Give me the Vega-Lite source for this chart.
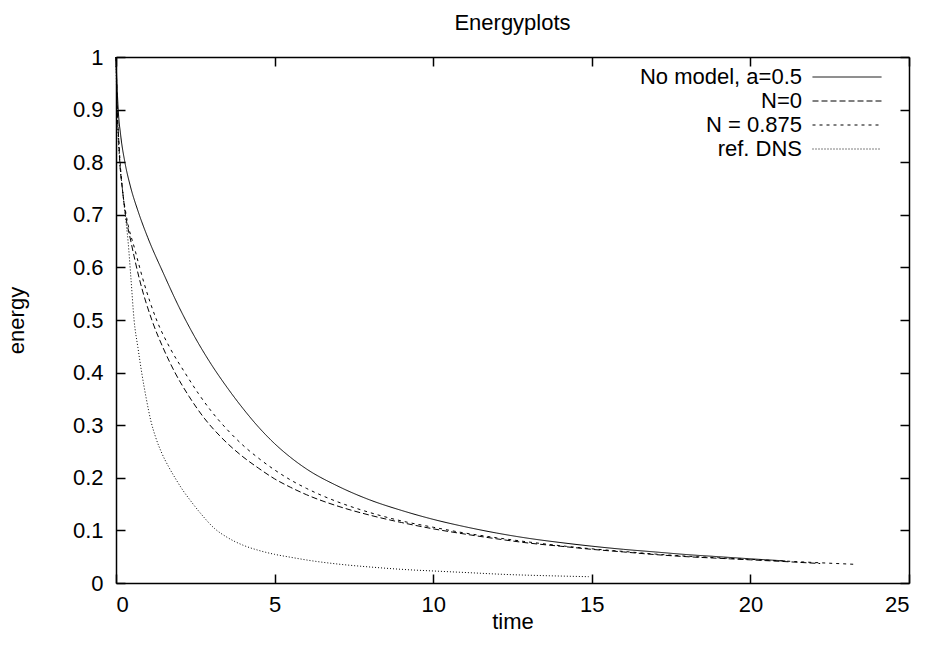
{
  "$schema": "https://vega.github.io/schema/vega-lite/v6.json",
  "width": 793,
  "height": 526,
  "autosize": {"type": "none"},
  "padding": {"left": 116, "top": 57, "right": 20, "bottom": 70},
  "title": {"text": "Energyplots", "fontSize": 22, "font": "Liberation Sans", "fontWeight": "normal", "offset": 11, "anchor": "middle", "color": "black"},
  "config": {
    "font": "Liberation Sans",
    "view": {"stroke": null},
    "axis": {
      "grid": false,
      "domainColor": "black",
      "domainWidth": 1.5,
      "tickColor": "black",
      "tickWidth": 1.5,
      "tickSize": -9,
      "labelFont": "Liberation Sans",
      "labelFontSize": 22,
      "labelColor": "black",
      "titleFont": "Liberation Sans",
      "titleFontSize": 22,
      "titleFontWeight": "normal",
      "titleColor": "black"
    },
    "legend": {
      "orient": "none",
      "legendX": 719,
      "legendY": 8,
      "symbolType": "M-3,0H3",
      "symbolSize": 529,
      "symbolStrokeWidth": 1,
      "symbolStrokeColor": "black",
      "labelAlign": "right",
      "labelOffset": -57,
      "labelFont": "Liberation Sans",
      "labelFontSize": 22,
      "labelColor": "black",
      "labelLimit": 400,
      "rowPadding": 1
    }
  },
  "data": {
    "values": [
      {"s": "No model, a=0.5", "t": 0, "e": 1},
      {"s": "No model, a=0.5", "t": 0.03, "e": 0.95},
      {"s": "No model, a=0.5", "t": 0.07, "e": 0.9},
      {"s": "No model, a=0.5", "t": 0.15, "e": 0.85},
      {"s": "No model, a=0.5", "t": 0.28, "e": 0.8},
      {"s": "No model, a=0.5", "t": 0.45, "e": 0.755},
      {"s": "No model, a=0.5", "t": 0.7, "e": 0.706},
      {"s": "No model, a=0.5", "t": 1.0, "e": 0.657},
      {"s": "No model, a=0.5", "t": 1.5, "e": 0.588},
      {"s": "No model, a=0.5", "t": 2.0, "e": 0.523},
      {"s": "No model, a=0.5", "t": 2.5, "e": 0.466},
      {"s": "No model, a=0.5", "t": 3.0, "e": 0.416},
      {"s": "No model, a=0.5", "t": 3.5, "e": 0.372},
      {"s": "No model, a=0.5", "t": 4.0, "e": 0.332},
      {"s": "No model, a=0.5", "t": 4.5, "e": 0.296},
      {"s": "No model, a=0.5", "t": 5.0, "e": 0.265},
      {"s": "No model, a=0.5", "t": 5.5, "e": 0.239},
      {"s": "No model, a=0.5", "t": 6, "e": 0.217},
      {"s": "No model, a=0.5", "t": 7, "e": 0.184},
      {"s": "No model, a=0.5", "t": 8, "e": 0.158},
      {"s": "No model, a=0.5", "t": 9, "e": 0.138},
      {"s": "No model, a=0.5", "t": 10, "e": 0.121},
      {"s": "No model, a=0.5", "t": 11, "e": 0.107},
      {"s": "No model, a=0.5", "t": 12, "e": 0.095},
      {"s": "No model, a=0.5", "t": 13, "e": 0.085},
      {"s": "No model, a=0.5", "t": 14, "e": 0.077},
      {"s": "No model, a=0.5", "t": 15, "e": 0.07},
      {"s": "No model, a=0.5", "t": 16, "e": 0.064},
      {"s": "No model, a=0.5", "t": 17, "e": 0.059},
      {"s": "No model, a=0.5", "t": 18, "e": 0.054},
      {"s": "No model, a=0.5", "t": 19, "e": 0.05},
      {"s": "No model, a=0.5", "t": 20, "e": 0.046},
      {"s": "No model, a=0.5", "t": 21.1, "e": 0.042},

      {"s": "N=0", "t": 0, "e": 1},
      {"s": "N=0", "t": 0.02, "e": 0.95},
      {"s": "N=0", "t": 0.04, "e": 0.9},
      {"s": "N=0", "t": 0.08, "e": 0.85},
      {"s": "N=0", "t": 0.12, "e": 0.8},
      {"s": "N=0", "t": 0.2, "e": 0.75},
      {"s": "N=0", "t": 0.3, "e": 0.7},
      {"s": "N=0", "t": 0.46, "e": 0.652},
      {"s": "N=0", "t": 0.75, "e": 0.575},
      {"s": "N=0", "t": 1.13, "e": 0.5},
      {"s": "N=0", "t": 1.5, "e": 0.445},
      {"s": "N=0", "t": 1.86, "e": 0.4},
      {"s": "N=0", "t": 2.3, "e": 0.355},
      {"s": "N=0", "t": 2.8, "e": 0.312},
      {"s": "N=0", "t": 3.3, "e": 0.278},
      {"s": "N=0", "t": 4.0, "e": 0.24},
      {"s": "N=0", "t": 4.5, "e": 0.218},
      {"s": "N=0", "t": 5.0, "e": 0.198},
      {"s": "N=0", "t": 5.5, "e": 0.182},
      {"s": "N=0", "t": 6, "e": 0.168},
      {"s": "N=0", "t": 7, "e": 0.146},
      {"s": "N=0", "t": 8, "e": 0.129},
      {"s": "N=0", "t": 9, "e": 0.115},
      {"s": "N=0", "t": 10, "e": 0.103},
      {"s": "N=0", "t": 11, "e": 0.093},
      {"s": "N=0", "t": 12, "e": 0.084},
      {"s": "N=0", "t": 13, "e": 0.076},
      {"s": "N=0", "t": 14, "e": 0.07},
      {"s": "N=0", "t": 15, "e": 0.064},
      {"s": "N=0", "t": 16, "e": 0.059},
      {"s": "N=0", "t": 17, "e": 0.054},
      {"s": "N=0", "t": 18, "e": 0.05},
      {"s": "N=0", "t": 19, "e": 0.047},
      {"s": "N=0", "t": 20, "e": 0.044},
      {"s": "N=0", "t": 21, "e": 0.041},
      {"s": "N=0", "t": 22.2, "e": 0.037},

      {"s": "N = 0.875", "t": 0, "e": 1},
      {"s": "N = 0.875", "t": 0.02, "e": 0.95},
      {"s": "N = 0.875", "t": 0.04, "e": 0.9},
      {"s": "N = 0.875", "t": 0.08, "e": 0.85},
      {"s": "N = 0.875", "t": 0.13, "e": 0.8},
      {"s": "N = 0.875", "t": 0.2, "e": 0.75},
      {"s": "N = 0.875", "t": 0.32, "e": 0.7},
      {"s": "N = 0.875", "t": 0.6, "e": 0.633},
      {"s": "N = 0.875", "t": 0.9, "e": 0.567},
      {"s": "N = 0.875", "t": 1.28, "e": 0.5},
      {"s": "N = 0.875", "t": 1.7, "e": 0.447},
      {"s": "N = 0.875", "t": 2.17, "e": 0.4},
      {"s": "N = 0.875", "t": 2.6, "e": 0.36},
      {"s": "N = 0.875", "t": 3.0, "e": 0.327},
      {"s": "N = 0.875", "t": 3.5, "e": 0.292},
      {"s": "N = 0.875", "t": 4.0, "e": 0.262},
      {"s": "N = 0.875", "t": 4.5, "e": 0.237},
      {"s": "N = 0.875", "t": 5.0, "e": 0.215},
      {"s": "N = 0.875", "t": 5.5, "e": 0.196},
      {"s": "N = 0.875", "t": 6, "e": 0.18},
      {"s": "N = 0.875", "t": 7, "e": 0.154},
      {"s": "N = 0.875", "t": 8, "e": 0.134},
      {"s": "N = 0.875", "t": 9, "e": 0.118},
      {"s": "N = 0.875", "t": 10, "e": 0.106},
      {"s": "N = 0.875", "t": 11, "e": 0.095},
      {"s": "N = 0.875", "t": 12, "e": 0.086},
      {"s": "N = 0.875", "t": 13, "e": 0.078},
      {"s": "N = 0.875", "t": 14, "e": 0.071},
      {"s": "N = 0.875", "t": 15, "e": 0.065},
      {"s": "N = 0.875", "t": 16, "e": 0.06},
      {"s": "N = 0.875", "t": 17, "e": 0.055},
      {"s": "N = 0.875", "t": 18, "e": 0.051},
      {"s": "N = 0.875", "t": 19, "e": 0.048},
      {"s": "N = 0.875", "t": 20, "e": 0.045},
      {"s": "N = 0.875", "t": 21, "e": 0.042},
      {"s": "N = 0.875", "t": 22, "e": 0.039},
      {"s": "N = 0.875", "t": 23.3, "e": 0.0355},

      {"s": "ref. DNS", "t": 0, "e": 1},
      {"s": "ref. DNS", "t": 0.02, "e": 0.93},
      {"s": "ref. DNS", "t": 0.06, "e": 0.86},
      {"s": "ref. DNS", "t": 0.12, "e": 0.8},
      {"s": "ref. DNS", "t": 0.2, "e": 0.75},
      {"s": "ref. DNS", "t": 0.29, "e": 0.7},
      {"s": "ref. DNS", "t": 0.38, "e": 0.65},
      {"s": "ref. DNS", "t": 0.47, "e": 0.58},
      {"s": "ref. DNS", "t": 0.57, "e": 0.5},
      {"s": "ref. DNS", "t": 0.69, "e": 0.448},
      {"s": "ref. DNS", "t": 0.81, "e": 0.4},
      {"s": "ref. DNS", "t": 0.95, "e": 0.352},
      {"s": "ref. DNS", "t": 1.1, "e": 0.308},
      {"s": "ref. DNS", "t": 1.25, "e": 0.277},
      {"s": "ref. DNS", "t": 1.45, "e": 0.246},
      {"s": "ref. DNS", "t": 1.65, "e": 0.222},
      {"s": "ref. DNS", "t": 1.86, "e": 0.2},
      {"s": "ref. DNS", "t": 2.1, "e": 0.177},
      {"s": "ref. DNS", "t": 2.33, "e": 0.158},
      {"s": "ref. DNS", "t": 2.7, "e": 0.13},
      {"s": "ref. DNS", "t": 3.1, "e": 0.104},
      {"s": "ref. DNS", "t": 3.5, "e": 0.087},
      {"s": "ref. DNS", "t": 4.0, "e": 0.072},
      {"s": "ref. DNS", "t": 4.5, "e": 0.062},
      {"s": "ref. DNS", "t": 5.0, "e": 0.0545},
      {"s": "ref. DNS", "t": 5.5, "e": 0.049},
      {"s": "ref. DNS", "t": 6.2, "e": 0.042},
      {"s": "ref. DNS", "t": 7, "e": 0.036},
      {"s": "ref. DNS", "t": 8.2, "e": 0.0295},
      {"s": "ref. DNS", "t": 9, "e": 0.026},
      {"s": "ref. DNS", "t": 10.3, "e": 0.022},
      {"s": "ref. DNS", "t": 11, "e": 0.02},
      {"s": "ref. DNS", "t": 12.4, "e": 0.016},
      {"s": "ref. DNS", "t": 13.5, "e": 0.014},
      {"s": "ref. DNS", "t": 14.9, "e": 0.012}
    ]
  },
  "layer": [
    {
      "mark": {"type": "line", "color": "black", "strokeWidth": 1, "interpolate": "monotone"},
      "encoding": {
        "x": {
          "field": "t", "type": "quantitative",
          "scale": {"domain": [0, 25], "nice": false, "zero": false},
          "axis": {"orient": "bottom", "values": [0, 5, 10, 15, 20, 25], "title": "time", "labelPadding": 20, "titlePadding": -4}
        },
        "y": {
          "field": "e", "type": "quantitative",
          "scale": {"domain": [0, 1], "nice": false},
          "axis": {"orient": "left", "values": [0, 0.1, 0.2, 0.3, 0.4, 0.5, 0.6, 0.7, 0.8, 0.9, 1], "format": ".1~f", "title": "energy", "labelPadding": 22, "titlePadding": 44}
        },
        "strokeDash": {
          "field": "s", "type": "nominal",
          "scale": {"domain": ["No model, a=0.5", "N=0", "N = 0.875", "ref. DNS"], "range": [[1, 0], [6, 3], [3, 4], [1, 2]]},
          "legend": {"title": null}
        }
      }
    },
    {
      "mark": {"type": "line", "strokeOpacity": 0},
      "encoding": {
        "x": {
          "field": "t", "type": "quantitative",
          "axis": {"orient": "top", "values": [0, 5, 10, 15, 20, 25], "labels": false, "title": null}
        },
        "y": {
          "field": "e", "type": "quantitative",
          "axis": {"orient": "right", "values": [0, 0.1, 0.2, 0.3, 0.4, 0.5, 0.6, 0.7, 0.8, 0.9, 1], "labels": false, "title": null}
        },
        "detail": {"field": "s", "type": "nominal"}
      }
    }
  ],
  "resolve": {"axis": {"x": "independent", "y": "independent"}}
}
